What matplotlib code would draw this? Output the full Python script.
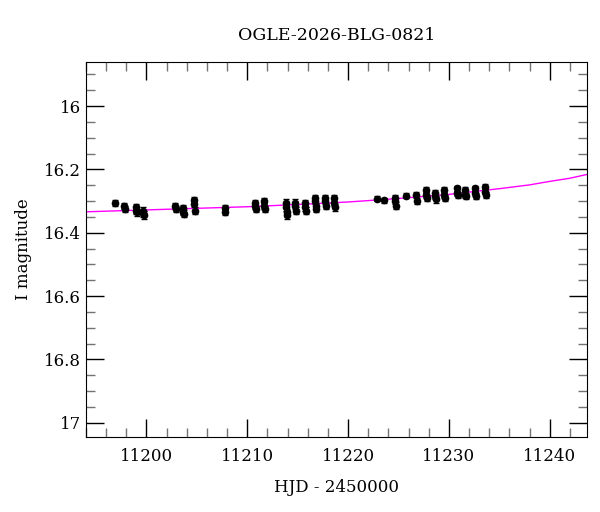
import numpy as np
import matplotlib
matplotlib.use('Agg')
import matplotlib.pyplot as plt
from matplotlib.ticker import MultipleLocator

plt.rcParams['font.family'] = ['DejaVu Serif']

title = 'OGLE-2026-BLG-0821'

# photometry (HJD - 2450000, I mag, error)
hjd = [11196.9, 11197.8, 11197.9, 11199.0, 11199.0, 11199.1,
       11199.7, 11199.7, 11199.8,
       11202.8, 11202.9, 11203.6, 11203.6, 11203.7,
       11204.7, 11204.7, 11204.8, 11207.8, 11207.8,
       11210.8, 11210.8, 11210.9, 11211.7, 11211.7, 11211.8,
       11213.8, 11213.8, 11213.9, 11213.9,
       11214.7, 11214.7, 11214.8, 11215.7, 11215.7, 11215.8,
       11216.7, 11216.7, 11216.8, 11216.8,
       11217.7, 11217.7, 11217.8, 11218.6, 11218.6, 11218.7,
       11222.9, 11223.6, 11224.7, 11224.7, 11224.8,
       11225.7, 11226.7, 11226.8,
       11227.7, 11227.7, 11227.8, 11228.6, 11228.6, 11228.7,
       11229.5, 11229.5, 11229.6,
       11230.8, 11230.8, 11230.9, 11231.6, 11231.6, 11231.7,
       11232.6, 11232.6, 11232.7, 11233.6, 11233.6, 11233.7]
mag = [16.307, 16.315, 16.326, 16.320, 16.330, 16.335,
       16.330, 16.338, 16.345,
       16.315, 16.325, 16.322, 16.335, 16.340,
       16.298, 16.310, 16.330, 16.322, 16.335,
       16.305, 16.315, 16.325, 16.300, 16.315, 16.325,
       16.305, 16.320, 16.335, 16.345,
       16.305, 16.315, 16.330, 16.305, 16.320, 16.330,
       16.290, 16.300, 16.315, 16.325,
       16.290, 16.300, 16.315, 16.290, 16.305, 16.320,
       16.293, 16.297, 16.290, 16.300, 16.315,
       16.283, 16.280, 16.300,
       16.265, 16.280, 16.290, 16.275, 16.285, 16.295,
       16.265, 16.280, 16.290,
       16.260, 16.275, 16.280, 16.265, 16.280, 16.285,
       16.260, 16.275, 16.285, 16.255, 16.270, 16.280]
err = [0.009, 0.010, 0.010, 0.010, 0.010, 0.011,
       0.010, 0.011, 0.012,
       0.009, 0.009, 0.010, 0.010, 0.011,
       0.010, 0.010, 0.010, 0.009, 0.009,
       0.009, 0.009, 0.010, 0.009, 0.010, 0.010,
       0.010, 0.010, 0.011, 0.012,
       0.010, 0.010, 0.010, 0.009, 0.010, 0.010,
       0.009, 0.010, 0.010, 0.010,
       0.009, 0.010, 0.010, 0.009, 0.010, 0.010,
       0.008, 0.008, 0.010, 0.010, 0.011,
       0.007, 0.009, 0.010,
       0.009, 0.009, 0.010, 0.009, 0.009, 0.010,
       0.009, 0.009, 0.010,
       0.008, 0.008, 0.009, 0.008, 0.009, 0.009,
       0.008, 0.009, 0.009, 0.008, 0.009, 0.009]

# model light curve
model_t = [11194.0, 11200.0, 11205.0, 11210.0, 11215.0, 11220.0,
           11225.0, 11230.0, 11235.0, 11238.0, 11240.0, 11242.0, 11243.7]
model_m = [16.334, 16.328, 16.323, 16.318, 16.311, 16.303,
           16.292, 16.279, 16.261, 16.249, 16.238, 16.228, 16.216]

fig = plt.figure(figsize=(6, 5.12), dpi=100)
ax = fig.add_axes([0.1433, 0.1465, 0.8350, 0.7324])

ax.plot(model_t, model_m, color='#ff00ff', lw=1, zorder=1)
ax.errorbar(hjd, mag, yerr=err, fmt='o', color='black', ms=4.5,
            elinewidth=1, capsize=2, capthick=1, zorder=2)

ax.set_xlim(11194.0, 11243.7)
ax.set_ylim(17.045, 15.861)
ax.xaxis.set_major_locator(MultipleLocator(10))
ax.xaxis.set_minor_locator(MultipleLocator(2))
ax.yaxis.set_major_locator(MultipleLocator(0.2))
ax.yaxis.set_minor_locator(MultipleLocator(0.05))
ax.yaxis.set_major_formatter(plt.FuncFormatter(lambda v, p: ('%g' % round(v, 2))))

ax.tick_params(which='both', direction='in', top=True, right=True, labelsize=12)
ax.tick_params(which='major', length=13, width=1)
ax.tick_params(which='minor', length=6.5, width=1, color='0.45')
ax.tick_params(axis='x', pad=8)

ax.set_xlabel('HJD - 2450000', fontsize=12, labelpad=10)
ax.set_ylabel('I magnitude', fontsize=12, labelpad=9)
ax.set_title(title, fontsize=12.5, pad=16)

fig.savefig('out.png', dpi=100)
